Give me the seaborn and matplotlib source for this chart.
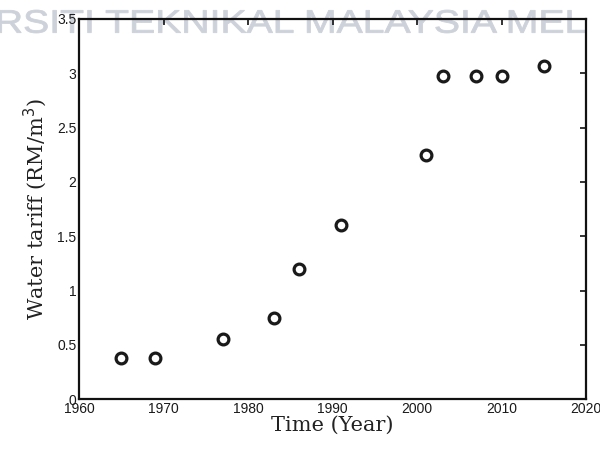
import matplotlib
matplotlib.use("Agg")
import matplotlib.pyplot as plt
import pandas as pd
import seaborn as sns
from matplotlib.font_manager import FontProperties
from matplotlib.patches import PathPatch
from matplotlib.textpath import TextPath
from matplotlib.transforms import Affine2D, IdentityTransform


years = [1965, 1969, 1977, 1983, 1986, 1991, 2001, 2003, 2007, 2010, 2015]
tariff = [0.38, 0.38, 0.55, 0.75, 1.2, 1.6, 2.25, 2.97, 2.97, 2.97, 3.07]
x_ticks = [1960, 1970, 1980, 1990, 2000, 2010, 2020]
y_ticks = [0, 0.5, 1, 1.5, 2, 2.5, 3, 3.5]
y_tick_labels = ["0", "0.5", "1", "1.5", "2", "2.5", "3", "3.5"]
watermark = "RSITI TEKNIKAL MALAYSIA MEL"


def add_watermark(fig, text, left, right, bottom, height):
    # stretched text outline, placed in pixel coordinates of the figure
    path = TextPath((0, 0), text, size=1, prop=FontProperties(family="Liberation Sans"))
    ext = path.get_extents()
    sx = (right - left) / ext.width
    sy = height / ext.height
    tr = Affine2D().translate(-ext.x0, -ext.y0).scale(sx, sy).translate(left, bottom)
    patch = PathPatch(tr.transform_path(path), facecolor="#cdd1d9",
                      edgecolor="#cdd1d9", linewidth=0.6,
                      transform=IdentityTransform(), zorder=0)
    fig.patches.append(patch)


def main():
    sns.set_theme(style="white")
    plt.rcParams["font.family"] = ["DejaVu Sans"]

    df = pd.DataFrame({"year": years, "tariff": tariff})

    fig = plt.figure(figsize=(6, 4.5), dpi=100)
    ax = fig.add_axes([0.132, 0.113, 0.845, 0.845])
    ax.set_zorder(1)
    ax.patch.set_alpha(0)

    add_watermark(fig, watermark, left=-2, right=585, bottom=450 - 33, height=23)

    sns.scatterplot(data=df, x="year", y="tariff", ax=ax, marker="o",
                    s=60, facecolor="white", edgecolor="#1a1a1a",
                    linewidth=2.3, zorder=3)

    ax.set_xlim(1960, 2020)
    ax.set_ylim(0, 3.5)
    ax.set_xticks(x_ticks)
    ax.set_yticks(y_ticks)
    ax.set_yticklabels(y_tick_labels)

    for side in ["left", "right", "top", "bottom"]:
        ax.spines[side].set_visible(True)
        ax.spines[side].set_color("#111111")
        ax.spines[side].set_linewidth(1.6)

    ax.tick_params(direction="in", length=4, width=1.2, colors="#111111",
                   top=True, right=True, labelsize=10, pad=2)
    for lbl in ax.get_xticklabels() + ax.get_yticklabels():
        lbl.set_family("Liberation Sans")
        lbl.set_color("#1a1a1a")

    ax.set_xlabel("Time (Year)", family="DejaVu Serif", fontsize=15,
                  color="#222222", labelpad=0)
    ax.set_ylabel("Water tariff (RM/m$^3$)", family="DejaVu Serif",
                  fontsize=15, color="#222222", labelpad=6)
    ax.grid(False)

    fig.savefig("out.png", dpi=100)


if __name__ == "__main__":
    main()
